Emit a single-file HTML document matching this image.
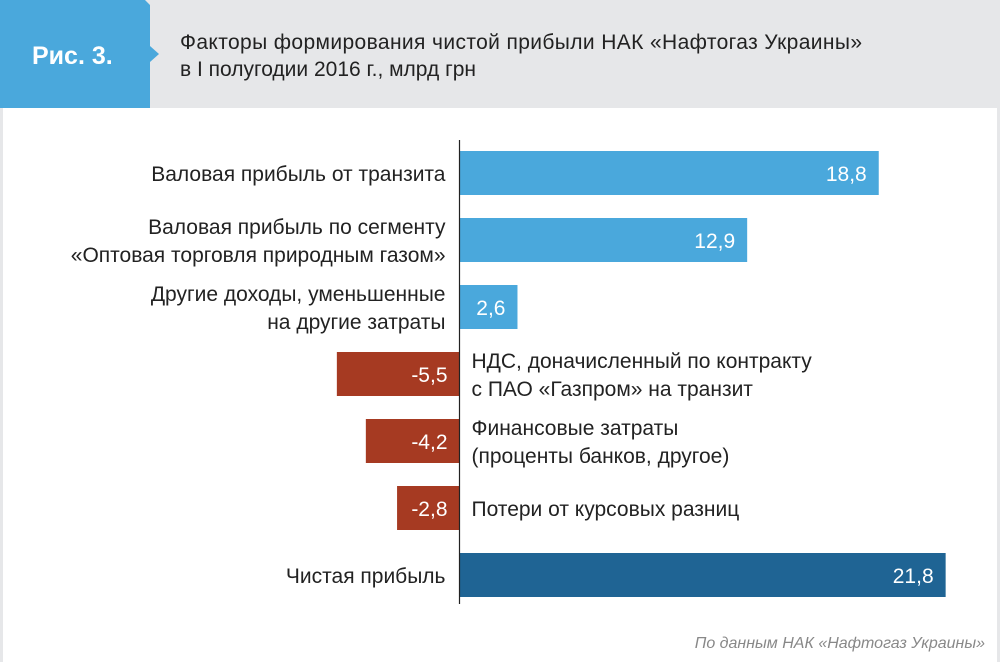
<!DOCTYPE html>
<html><head><meta charset="utf-8"><style>
body{margin:0;width:1000px;height:662px;background:#fff;font-family:"Liberation Sans",sans-serif;overflow:hidden;position:relative}
</style></head><body>
<svg width="1000" height="662" id="svg" style="position:absolute;left:0;top:0" font-family="Liberation Sans, sans-serif">
<rect x="0" y="0" width="1000" height="108" fill="#e6e7e9"/>
<rect x="0" y="108" width="3" height="554" fill="#e6e7e9"/>
<rect x="997" y="108" width="3" height="554" fill="#e6e7e9"/>
<polygon points="0,0 145,0 150,5 150,46 159,54 150,62 150,108 0,108" fill="#4aa8dc"/>
<text x="32" y="64" font-size="25" font-weight="bold" fill="#fff">Рис. 3.</text>
<text x="180" y="49" font-size="21" fill="#222" textLength="682">Факторы формирования чистой прибыли НАК «Нафтогаз Украины»</text>
<text x="180" y="76" font-size="21" fill="#222">в I полугодии 2016 г., млрд грн</text>
<text x="985" y="648" font-size="16" font-style="italic" fill="#888" text-anchor="end">По данным НАК «Нафтогаз Украины»</text>
<g id="bars"></g>
<line x1="459.5" y1="140" x2="459.5" y2="604" stroke="#222" stroke-width="1.2"/>
</svg>
<script>
const categories=[["Валовая прибыль от транзита"],["Валовая прибыль по сегменту","«Оптовая торговля природным газом»"],["Другие доходы, уменьшенные","на другие затраты"],["НДС, доначисленный по контракту","с ПАО «Газпром» на транзит"],["Финансовые затраты","(проценты банков, другое)"],["Потери от курсовых разниц"],["Чистая прибыль"]];
const values=[18.8,12.9,2.6,-5.5,-4.2,-2.8,21.8];
const valueLabels=["18,8","12,9","2,6","-5,5","-4,2","-2,8","21,8"];
const isTotal=[false,false,false,false,false,false,true];
const NS="http://www.w3.org/2000/svg";
const x0=459.5, scale=22.3;
function xs(v){return x0+v*scale;}
function yc(i){return 173+67*i;}
const g=document.getElementById('bars');
function mk(tag,attrs){const e=document.createElementNS(NS,tag);for(const k in attrs)e.setAttribute(k,attrs[k]);return e;}
values.forEach((v,i)=>{
  const cy=yc(i), h=44;
  const color=isTotal[i]?"#1f6494":(v>=0?"#4aa8dc":"#a63a22");
  const r=mk('rect',{x:Math.min(xs(v),x0),y:cy-h/2,width:Math.abs(xs(v)-x0),height:h,fill:color});
  
  
  g.appendChild(r);
  const t=mk('text',{x:v>=0?xs(v)-12:x0-12,y:cy+8,'font-size':21,fill:'#fff','text-anchor':'end'});
  t.textContent=valueLabels[i];
  
  
  g.appendChild(t);
  const lines=categories[i];
  const tx=v>=0?x0-14:x0+12;
  const anchor=v>=0?'end':'start';
  const lbl=mk('text',{x:tx,'font-size':21,fill:'#222','text-anchor':anchor});
  
  
  lines.forEach((ln,j)=>{
    const ts=mk('tspan',{x:tx,y:cy+8+(j-(lines.length-1)/2)*28});
    ts.textContent=ln;
    lbl.appendChild(ts);
  });
  g.appendChild(lbl);
});
</script>
</body></html>
